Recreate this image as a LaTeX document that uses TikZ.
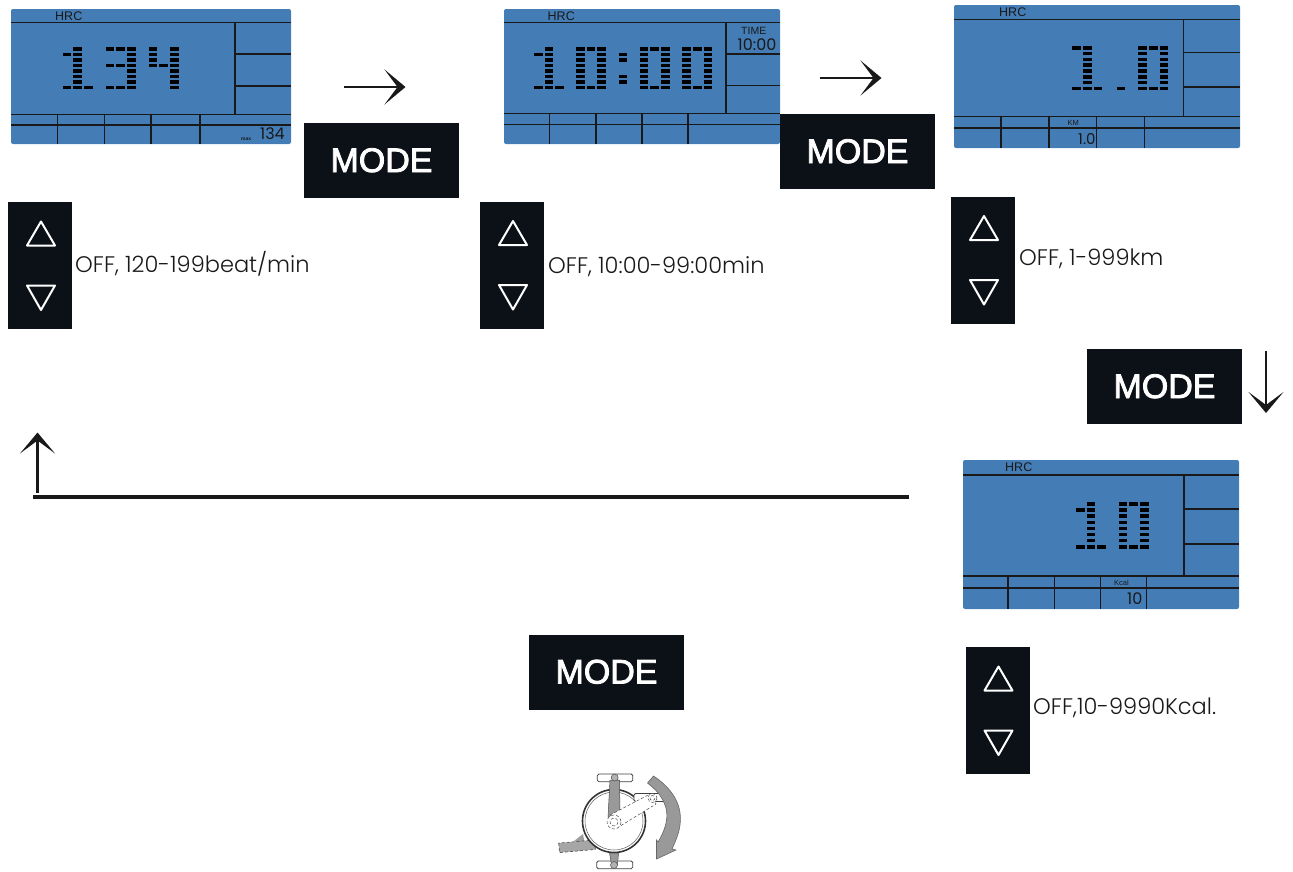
\documentclass[tikz,border=0pt]{standalone}
\usepackage{xcolor}
\usepackage{fontspec}
\usetikzlibrary{arrows.meta}
\setmainfont{Liberation Sans}
\newfontfamily\wideface{Poppins}
\newfontfamily\thinface[UprightFont={* Light}]{Poppins}
\newfontfamily\keyface[FakeBold=2.5]{Liberation Sans}
\definecolor{lcdblue}{RGB}{68,125,181}
\definecolor{keyblack}{RGB}{12,17,24}
\definecolor{inkblack}{RGB}{25,25,25}
\newcommand{\dotsone}{0/1,1/0,1/1,1/2,1/3,1/4,1/5,1/6,1/7,0/7,2/7}
\newcommand{\dotsonetop}{0/0,1/0,1/1,1/2,1/3,1/4,1/5,1/6,1/7,0/7,2/7}
\newcommand{\dotsthree}{0/0,1/0,2/0,2/1,2/2,0/3,1/3,2/3,2/4,2/5,2/6,0/7,1/7,2/7}
\newcommand{\dotsfour}{0/0,2/0,0/1,2/1,0/2,2/2,0/3,1/3,2/3,2/4,2/5,2/6,2/7}
\newcommand{\dotszero}{0/0,1/0,2/0,0/1,2/1,0/2,2/2,0/3,2/3,0/4,2/4,0/5,2/5,0/6,2/6,0/7,1/7,2/7}
\newcommand{\lcddigit}[4]{\foreach \c/\r in #1 {\fill[black] (#2+\c*10.6-4.3,#3+\r*#4-1.8) rectangle ++(8.7,3.6);}}
\newcommand{\updown}[3]{
\node[keybox] (#1) at (#2,#3) {};
\draw[keytri] (#2-13,#3-20) -- (#2+15,#3-20) -- (#2+1,#3-44) -- cycle;
\draw[keytri] (#2-13,#3+20) -- (#2+15,#3+20) -- (#2+1,#3+44.5) -- cycle;
}
\begin{document}
\begin{tikzpicture}[x=1pt, y=-1pt,
  screen/.style={fill=lcdblue, rounded corners=2pt},
  lcdline/.style={line width=1.9pt, draw=black!90},
  modebox/.style={fill=keyblack, text=white, minimum width=155pt, minimum height=75pt, inner sep=0pt, text height=25pt, text depth=2pt, font=\fontsize{34}{34}\selectfont\keyface},
  keybox/.style={fill=keyblack, minimum width=64pt, minimum height=127pt, inner sep=0pt},
  keytri/.style={draw=white, line width=2pt, line join=round},
  hint/.style={anchor=base west, inner sep=0pt, text=inkblack, font=\fontsize{22.5}{22.5}\selectfont\thinface},
  lcdtext/.style={anchor=base west, inner sep=0pt, text=black!90},
  flow/.style={-{Stealth[length=21pt,width=35pt,inset=13pt]}, line width=2.7pt, draw=inkblack}]
\useasboundingbox (0,0) rectangle (1293,871);

\fill[screen] (11,9) rectangle (291,144);
\draw[lcdline] (11,22.5) -- (291,22.5) (235,22.5) -- (235,114.5) (235,54) -- (291,54) (235,86) -- (291,86);
\draw[lcdline] (11,114.5) -- (291,114.5) (11,125) -- (291,125);
\foreach \x in {57.5,104.5,151,200} {\draw[lcdline] (\x,114.5) -- (\x,144);}
\lcddigit{\dotsone}{67}{49}{5.5}
\lcddigit{\dotsthree}{110}{49}{5.5}
\lcddigit{\dotsfour}{153}{49}{5.5}
\node[lcdtext, font=\fontsize{12.5}{12.5}\selectfont] (hrcone) at (55,20.5) {HRC};
\node[lcdtext, font=\fontsize{5}{5}\selectfont\bfseries] (maxone) at (241,140) {max};
\node[lcdtext, font=\fontsize{16}{16}\selectfont\wideface] (valone) at (260,139.5) {134};

\fill[screen] (504,9) rectangle (780,144);
\draw[lcdline] (504,22.5) -- (780,22.5) (726,22.5) -- (726,113.5) (726,54) -- (780,54) (726,85.5) -- (780,85.5);
\draw[lcdline] (504,113.5) -- (780,113.5) (504,124.5) -- (780,124.5);
\foreach \x in {549.5,596,642,688} {\draw[lcdline] (\x,113.5) -- (\x,144);}
\lcddigit{\dotsone}{538.3}{49}{5.5}
\lcddigit{\dotszero}{580.3}{49}{5.5}
\lcddigit{\dotszero}{644}{49}{5.5}
\lcddigit{\dotszero}{686.7}{49}{5.5}
\foreach \y in {54.3,60,76.3,81.7} {\fill[black] (618.7,\y-1.8) rectangle ++(8.7,3.6);}
\node[lcdtext, font=\fontsize{12.5}{12.5}\selectfont] (hrctwo) at (547.5,20.5) {HRC};
\node[lcdtext, font=\fontsize{10.5}{10.5}\selectfont] (timetwo) at (741,34.5) {TIME};
\node[lcdtext, font=\fontsize{16}{16}\selectfont\wideface] (valtwo) at (737.5,50.5) {10:00};

\fill[screen] (954,5) rectangle (1240,148);
\draw[lcdline] (954,19.5) -- (1240,19.5) (1183.5,19.5) -- (1183.5,116.5) (1183.5,52.5) -- (1240,52.5) (1183.5,87) -- (1240,87);
\draw[lcdline] (954,116.5) -- (1240,116.5) (954,128) -- (1240,128);
\foreach \x in {1001,1049,1096.5,1144.5} {\draw[lcdline] (\x,116.5) -- (\x,148);}
\lcddigit{\dotsonetop}{1076.7}{47.7}{5.8}
\lcddigit{\dotszero}{1142.7}{47.7}{5.8}
\fill[black] (1116.7,86.5) rectangle ++(8.7,3.6);
\node[lcdtext, font=\fontsize{12.5}{12.5}\selectfont] (hrcthree) at (999,16.5) {HRC};
\node[lcdtext, font=\fontsize{7.5}{7.5}\selectfont] (kmthree) at (1067.5,125) {KM};
\node[lcdtext, font=\fontsize{15}{15}\selectfont\wideface] (valthree) at (1078,144.5) {1.0};

\fill[screen] (963,460) rectangle (1239,609);
\draw[lcdline] (963,474.7) -- (1239,474.7) (1184,474.7) -- (1184,575.7) (1184,509.3) -- (1239,509.3) (1184,544.3) -- (1239,544.3);
\draw[lcdline] (963,575.7) -- (1239,575.7) (963,588) -- (1239,588);
\foreach \x in {1008,1054.5,1100.5,1146.5} {\draw[lcdline] (\x,575.7) -- (\x,609);}
\lcddigit{\dotsone}{1080.3}{504}{6.1}
\lcddigit{\dotszero}{1123}{504}{6.1}
\node[lcdtext, font=\fontsize{12.5}{12.5}\selectfont] (hrcfour) at (1005,471.5) {HRC};
\node[lcdtext, font=\fontsize{7.5}{7.5}\selectfont] (kcalfour) at (1114,585) {Kcal};
\node[lcdtext, font=\fontsize{16}{16}\selectfont\wideface] (valfour) at (1127,604) {10};

\node[modebox] (modeone) at (381.5,160.5) {MODE};
\node[modebox] (modetwo) at (857.5,151.5) {MODE};
\node[modebox] (modethree) at (1164.5,386.5) {MODE};
\node[modebox] (modefour) at (606.5,672) {MODE};

\updown{keysone}{40}{265.5}
\updown{keystwo}{512}{265}
\updown{keysthree}{983}{260}
\updown{keysfour}{997.5}{710.5}

\node[hint] (hintone) at (75,272) {OFF, 120-199beat/min};
\node[hint] (hinttwo) at (548,273) {OFF, 10:00-99:00min};
\node[hint] (hintthree) at (1019,265) {OFF, 1-999km};
\node[hint] (hintfour) at (1033,714) {OFF,10-9990Kcal.};

\coordinate (stepa) at (344,87);
\coordinate (stepb) at (405.5,87);
\coordinate (stepc) at (820,78);
\coordinate (stepd) at (881.5,78);
\coordinate (stepe) at (1266,351);
\coordinate (stepf) at (1266,413);
\coordinate (backa) at (909,496.8);
\coordinate (backb) at (33,496.8);
\coordinate (backc) at (37.5,493);
\coordinate (backd) at (37.5,432.5);
\draw[flow] (stepa) -- (stepb);
\draw[flow] (stepc) -- (stepd);
\draw[flow] (stepe) -- (stepf);
\draw[flow] (backc) -- (backd);
\draw[line width=3.6pt, draw=inkblack] (backa) -- (backb);

\fill[gray!75] (574,841) -- (583,834) -- (585,845) -- cycle;
\draw[fill=gray!70, draw=black!70, line width=0.6pt, densely dashed, rotate around={5:(577,846)}] (559,841.5) rectangle (595,851);
\draw[draw=black!75, line width=0.8pt, rounded corners=1.5pt, fill=white] (597.3,774) rectangle (632.7,781.7);
\draw[draw=black!75, line width=0.8pt, rounded corners=1.5pt, fill=white] (596.7,861) rectangle (632.7,868.7);
\draw[draw=black!80, fill=white, line width=1.6pt] (614,821) circle (31.5);
\draw[draw=black!65, line width=0.5pt] (614,821) circle (29);
\draw[fill=gray!80, draw=black!70, line width=0.5pt] (608,817) -- (610,780) -- (619.5,780) -- (620,817) -- cycle;
\draw[fill=gray!80, draw=black!70, line width=0.5pt] (609.5,853) -- (618.5,853) -- (617.5,865) -- (611.5,865) -- cycle;
\draw[draw=black!70, fill=gray!60, line width=0.5pt] (614.7,777.5) circle (3.5) (614,865) circle (3.5);
\draw[draw=black!75, line width=0.8pt, rounded corners=1.5pt, fill=white] (634,793.5) rectangle (669.5,801.5);
\draw[fill=white, draw=black!70, line width=0.5pt, densely dashed] (610,815) -- (650,794) -- (656,804) -- (617,828) -- cycle;
\draw[fill=white, draw=black!70, line width=0.5pt, densely dashed] (614,822) circle (7);
\draw[draw=black!70, line width=0.5pt, densely dashed] (614,822) circle (4);
\draw[fill=white, draw=black!70, line width=0.5pt, densely dashed] (652.5,798) circle (4.5);
\draw[draw=black!70, line width=0.5pt, densely dashed] (652.5,798) circle (2.5);
\draw[fill=gray!80, draw=black!60, line width=0.6pt] (653.5,776) .. controls (670,787) and (683,803) .. (680,825) .. controls (679,833) and (676,840) .. (672,849) -- (676,850) -- (656.5,859) -- (656.5,840) -- (658,842) .. controls (664,832) and (669,820) .. (666,808) .. controls (662,795) and (655,789) .. (647.5,783) -- cycle;
\end{tikzpicture}
\end{document}
